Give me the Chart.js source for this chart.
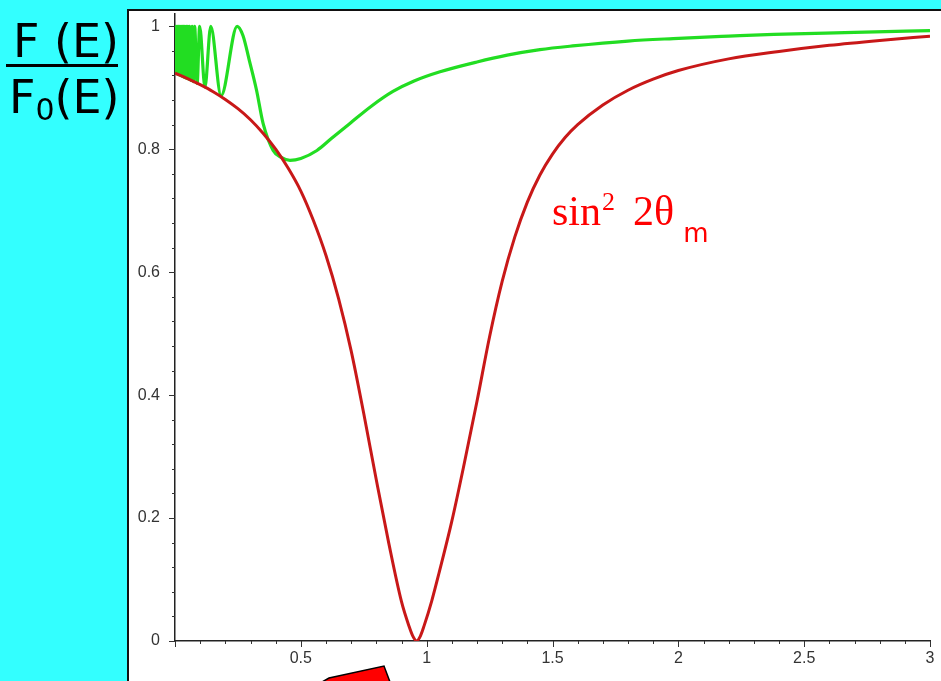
<!DOCTYPE html>
<html><head><meta charset="utf-8">
<script src="https://cdn.jsdelivr.net/npm/chart.js@4.4.1/dist/chart.umd.min.js"></script>
<style>
html,body{margin:0;padding:0;background:#33ffff;overflow:hidden}
#wrap{position:relative;width:941px;height:681px}
canvas{position:absolute;left:0;top:0}
.lbl{position:absolute;white-space:nowrap;margin:0;padding:0}
#num,#den{font-family:"DejaVu Sans",sans-serif;font-size:46px;line-height:46px;color:#000}
#num{left:13px;top:18px}
#den{left:9px;top:74px}
#den .s0{font-size:30px;position:relative;top:7px}
#bar{position:absolute;left:6px;top:64px;width:112px;height:3px;background:#000}
#ann{left:552px;top:190px;font-family:"Liberation Serif","Times New Roman",serif;font-size:42px;line-height:42px;color:#ff0000}
#ann .sp{font-size:26px;position:relative;top:-15px;margin-left:1px;margin-right:18px}
#ann .sm{font-family:"DejaVu Sans",sans-serif;font-size:26px;position:relative;top:17px;margin-left:9px}
</style></head><body>
<div id="wrap">
<canvas id="c" width="941" height="681"></canvas>
<div class="lbl" id="num">F (E)</div>
<div id="bar"></div>
<div class="lbl" id="den">F<span class="s0">0</span>(E)</div>
<div class="lbl" id="ann">sin<span class="sp">2</span>2θ<span class="sm">m</span></div>
</div>
<script>
// ---- data ----
const redX = [0, 0.05, 0.1, 0.15, 0.2, 0.25, 0.3, 0.35, 0.4, 0.45, 0.5, 0.55, 0.6, 0.65, 0.7, 0.75, 0.8, 0.85, 0.9, 0.93, 0.945, 0.96, 0.975, 0.99, 1.02, 1.05, 1.1, 1.15, 1.2, 1.25, 1.3, 1.35, 1.4, 1.45, 1.5, 1.55, 1.6, 1.7, 1.8, 1.9, 2.0, 2.2, 2.4, 2.6, 2.8, 3.0];
const redY = [0.924, 0.915, 0.905, 0.894, 0.881, 0.866, 0.848, 0.826, 0.800, 0.769, 0.732, 0.684, 0.627, 0.557, 0.472, 0.370, 0.262, 0.158, 0.064, 0.024, 0.008, 0.000, 0.008, 0.025, 0.065, 0.112, 0.195, 0.290, 0.390, 0.495, 0.585, 0.657, 0.714, 0.758, 0.792, 0.819, 0.840, 0.872, 0.896, 0.914, 0.928, 0.947, 0.959, 0.969, 0.977, 0.984];

const greenX = [0, 0.004, 0.0065, 0.009, 0.0115, 0.014, 0.0165, 0.019, 0.0215, 0.024, 0.0265, 0.029, 0.0315, 0.034, 0.0365, 0.039, 0.042, 0.045, 0.048, 0.051, 0.0545, 0.058, 0.063, 0.068, 0.073, 0.078, 0.088, 0.098, 0.119, 0.142, 0.183, 0.247, 0.27, 0.295, 0.324, 0.35, 0.39, 0.42, 0.457, 0.50, 0.564, 0.62, 0.695, 0.78, 0.866, 0.95, 1.053, 1.2, 1.32, 1.45, 1.58, 1.8, 1.98, 2.2, 2.38, 2.7, 3.0];
const greenY = [0.96, 1.0, 0.923, 1.0, 0.922, 1.0, 0.921, 1.0, 0.920, 1.0, 0.919, 1.0, 0.918, 1.0, 0.917, 1.0, 0.916, 1.0, 0.915, 1.0, 0.914, 1.0, 0.912, 1.0, 0.910, 1.0, 0.907, 1.0, 0.901, 1.0, 0.887, 1.0, 0.985, 0.945, 0.896, 0.842, 0.798, 0.787, 0.782, 0.785, 0.798, 0.817, 0.842, 0.870, 0.894, 0.911, 0.926, 0.942, 0.953, 0.962, 0.968, 0.976, 0.980, 0.984, 0.987, 0.990, 0.993];

const xLabelValues = [0.5, 1, 1.5, 2, 2.5, 3];
const xTickLabels  = ['0.5', '1', '1.5', '2', '2.5', '3'];
const yLabelValues = [0, 0.2, 0.4, 0.6, 0.8, 1];
const yTickLabels  = ['0', '0.2', '0.4', '0.6', '0.8', '1'];
const xMinorStep = 0.1, yMinorStep = 0.04;

// tick positions (minor + major)
const xTickValues = []; for (let i = 0; i <= 30; i++) xTickValues.push(+(i * xMinorStep).toFixed(4));
const yTickValues = []; for (let i = 0; i <= 25; i++) yTickValues.push(+(i * yMinorStep).toFixed(4));

const near = (a, b) => Math.abs(a - b) < 1e-6;
const labelFor = (v, vals, labs) => { const k = vals.findIndex(t => near(t, v)); return k >= 0 ? labs[k] : ''; };
const isMajorX = v => near(v / 0.5, Math.round(v / 0.5));
const isMajorY = v => near(v / 0.2, Math.round(v / 0.2));

const bgPlugin = {
  id: 'bg',
  beforeDraw(chart) {
    const ctx = chart.ctx, W = chart.width, H = chart.height;
    ctx.save();
    ctx.fillStyle = '#33ffff'; ctx.fillRect(0, 0, W, H);
    ctx.fillStyle = '#ffffff'; ctx.fillRect(128, 10, W - 128, H - 10);
    ctx.fillStyle = '#111'; ctx.fillRect(127, 9, 2, H - 9); ctx.fillRect(127, 9, W - 127, 2);
    ctx.restore();
  }
};
const tickPlugin = {
  id: 'minorTicks',
  afterDraw(chart) {
    const ctx = chart.ctx, xs = chart.scales.x, ys = chart.scales.y, a = chart.chartArea;
    ctx.save(); ctx.strokeStyle = '#333'; ctx.lineWidth = 1;
    xTickValues.forEach(v => {
      const px = Math.round(xs.getPixelForValue(v)) + 0.5, len = isMajorX(v) ? 6 : 3;
      ctx.beginPath(); ctx.moveTo(px, a.bottom); ctx.lineTo(px, a.bottom + len); ctx.stroke();
    });
    yTickValues.forEach(v => {
      const py = Math.round(ys.getPixelForValue(v)) + 0.5, len = isMajorY(v) ? 6 : 3;
      ctx.beginPath(); ctx.moveTo(a.left, py); ctx.lineTo(a.left - len, py); ctx.stroke();
    });
    // decorative arrow tail at bottom
    ctx.beginPath();
    ctx.moveTo(322, 682); ctx.lineTo(329, 678); ctx.lineTo(384, 666); ctx.lineTo(390, 682); ctx.closePath();
    ctx.fillStyle = '#ff0000'; ctx.fill(); ctx.strokeStyle = '#000'; ctx.lineWidth = 1.5; ctx.stroke();
    ctx.restore();
  }
};

new Chart(document.getElementById('c'), {
  type: 'line',
  data: {
    datasets: [
      { label: 'sin^2 2θm', data: redX.map((x, i) => ({ x, y: redY[i] })), borderColor: '#c81818', borderWidth: 3, pointRadius: 0, cubicInterpolationMode: 'monotone', fill: false },
      { label: 'F/F0', data: greenX.map((x, i) => ({ x, y: greenY[i] })), borderColor: '#22dd22', borderWidth: 3.2, pointRadius: 0, cubicInterpolationMode: 'monotone', fill: false }
    ]
  },
  options: {
    responsive: false, animation: false, devicePixelRatio: 1,
    layout: { padding: { left: 0, right: 11, top: 14, bottom: 0 } },
    plugins: { legend: { display: false }, tooltip: { enabled: false } },
    scales: {
      x: {
        type: 'linear', min: 0, max: 3,
        afterBuildTicks: s => { s.ticks = xTickValues.map(v => ({ value: v })); },
        afterFit: s => { s.height = 40; s.paddingLeft = 0; s.paddingRight = 0; },
        grid: { display: false },
        border: { display: true, color: '#222', width: 1.5 },
        ticks: { autoSkip: false, maxRotation: 0, padding: 0, color: '#333', font: { family: 'Liberation Sans, Arial, sans-serif', size: 16 },
                 callback: v => labelFor(v, xLabelValues, xTickLabels) }
      },
      y: {
        type: 'linear', min: 0, max: 1.02,
        afterBuildTicks: s => { s.ticks = yTickValues.map(v => ({ value: v })); },
        afterFit: s => { s.width = 175; s.paddingTop = 0; s.paddingBottom = 0; },
        grid: { display: false },
        border: { display: true, color: '#222', width: 1.5 },
        ticks: { autoSkip: false, padding: 7, color: '#333', font: { family: 'Liberation Sans, Arial, sans-serif', size: 16 },
                 callback: v => labelFor(v, yLabelValues, yTickLabels) }
      }
    }
  },
  plugins: [bgPlugin, tickPlugin]
});
</script>
</body></html>
